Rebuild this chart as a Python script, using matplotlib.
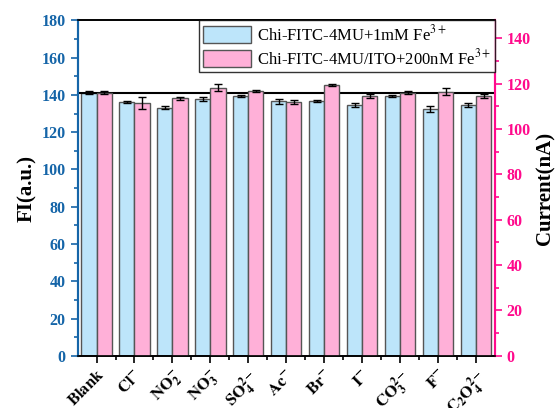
import matplotlib
matplotlib.use('Agg')
import matplotlib.pyplot as plt
import numpy as np
from matplotlib.ticker import MultipleLocator, FixedLocator

plt.rcParams['font.family'] = ['Liberation Serif', 'DejaVu Serif']
plt.rcParams['mathtext.fontset'] = 'stix'

labels = [r'$\mathbf{Blank}$', r'$\mathbf{Cl^{-}}$', r'$\mathbf{NO_2^{-}}$', r'$\mathbf{NO_3^{-}}$',
          r'$\mathbf{SO_4^{2-}}$', r'$\mathbf{Ac^{-}}$', r'$\mathbf{Br^{-}}$', r'$\mathbf{I^{-}}$',
          r'$\mathbf{CO_3^{2-}}$', r'$\mathbf{F^{-}}$', r'$\mathbf{C_2O_4^{2-}}$']
fi = [141.2, 136.3, 133.1, 137.8, 139.6, 136.5, 136.7, 134.7, 139.2, 132.6, 134.4]
fi_err = [0.8, 0.5, 0.8, 1.2, 0.5, 1.5, 0.4, 1.2, 0.5, 1.5, 1.0]
cur = [116.1, 111.4, 113.6, 118.3, 116.9, 112.0, 119.3, 114.6, 116.1, 116.5, 114.6]
cur_err = [0.7, 2.5, 0.6, 1.5, 0.5, 0.8, 0.4, 1.0, 0.5, 1.6, 0.8]
blank_level = 141.2

c_left = '#1565a8'
c_right = '#ff0a8c'

fig = plt.figure(figsize=(5.58, 4.08), dpi=100)
ax = fig.add_axes([0.139, 0.128, 0.748, 0.822])
ax2 = ax.twinx()

x = np.arange(len(labels))
w = 0.4
ax.bar(x - w / 2, fi, w, yerr=fi_err, color='#bde5fa', edgecolor='#555555', linewidth=1.0,
       capsize=3, error_kw=dict(ecolor='black', elinewidth=1, capthick=1),
       label=r'Chi-FITC-4MU+1mM Fe$^{3+}$')
ax2.bar(x + w / 2, cur, w, yerr=cur_err, color='#ffb0d8', edgecolor='#555555', linewidth=1.0,
        capsize=3, error_kw=dict(ecolor='black', elinewidth=1, capthick=1),
        label=r'Chi-FITC-4MU/ITO+200nM Fe$^{3+}$')
ax.axhline(blank_level, color='black', linewidth=1.5, zorder=5)

ax.set_xlim(-0.5, 10.5)
ax.set_ylim(0, 180)
ax2.set_ylim(0, 147.9)

ax.set_xticks(x)
ax.set_xticklabels(labels, rotation=45, ha='right', rotation_mode='anchor', fontsize=12)
ax.xaxis.set_minor_locator(FixedLocator(x[:-1] + 0.5))
ax.tick_params(axis='x', which='major', direction='out', length=5, width=1.2, pad=3)
ax.tick_params(axis='x', which='minor', direction='out', length=3, width=1.2)

ax.yaxis.set_major_locator(MultipleLocator(20))
ax.yaxis.set_minor_locator(MultipleLocator(10))
ax.tick_params(axis='y', which='major', colors=c_left, length=5, width=1.2, labelsize=11.5)
ax.tick_params(axis='y', which='minor', colors=c_left, length=3, width=1.2)
for t in ax.get_yticklabels():
    t.set_fontweight('bold')

ax2.yaxis.set_major_locator(MultipleLocator(20))
ax2.yaxis.set_minor_locator(MultipleLocator(10))
ax2.tick_params(axis='y', which='major', colors=c_right, length=5, width=1.2, labelsize=11.5)
ax2.tick_params(axis='y', which='minor', colors=c_right, length=3, width=1.2)
for t in ax2.get_yticklabels():
    t.set_fontweight('bold')

ax.set_ylabel('FI(a.u.)', fontsize=15, fontweight='bold', labelpad=3)
ax2.set_ylabel('Current(nA)', fontsize=15, fontweight='bold', labelpad=3)

for a in (ax, ax2):
    a.spines['left'].set_color(c_left)
    a.spines['right'].set_color(c_right)
    a.spines['left'].set_linewidth(1.5)
    a.spines['right'].set_linewidth(1.5)
    a.spines['top'].set_linewidth(1.2)
    a.spines['bottom'].set_linewidth(1.2)

h1, l1 = ax.get_legend_handles_labels()
h2, l2 = ax2.get_legend_handles_labels()
leg = ax2.legend(h1 + h2, l1 + l2, loc='upper right', fontsize=12, frameon=True, fancybox=False,
                 edgecolor='black', borderaxespad=0, handlelength=2.9, handleheight=1.2,
                 handletextpad=0.35, borderpad=0.25, labelspacing=0.2)
leg.get_frame().set_linewidth(1.0)

fig.savefig('out.png', dpi=100)
